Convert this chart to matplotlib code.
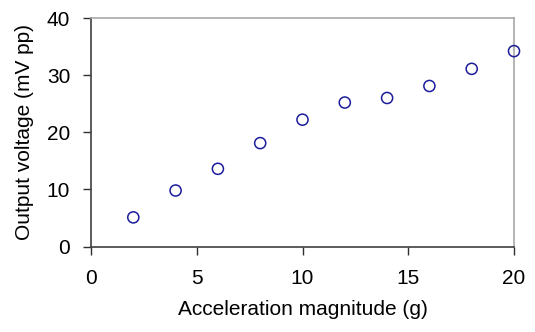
import matplotlib
matplotlib.use("Agg")
import matplotlib.pyplot as plt

# data
accel_g = [2, 4, 6, 8, 10, 12, 14, 16, 18, 20]
output_mv = [5.1, 9.8, 13.6, 18.1, 22.2, 25.2, 26.0, 28.1, 31.1, 34.2]

x_ticks = [0, 5, 10, 15, 20]
y_ticks = [0, 10, 20, 30, 40]

plt.rcParams["font.family"] = ["Liberation Sans", "DejaVu Sans"]

fig = plt.figure(figsize=(5.35, 3.32), dpi=100, facecolor="white")
ax = fig.add_axes([91 / 535, 1 - 246.5 / 332, (514 - 91) / 535, (246.5 - 18) / 332])

ax.scatter(accel_g, output_mv, s=64, facecolors="none", edgecolors="#1c1c9c",
           linewidths=1.1, clip_on=False, zorder=3)

ax.set_xlim(0, 20)
ax.set_ylim(0, 40)
ax.set_xticks(x_ticks)
ax.set_yticks(y_ticks)
ax.tick_params(axis="both", direction="out", length=6, width=1, colors="#303030",
               labelsize=15, labelcolor="black", top=False, right=False)
ax.tick_params(axis="x", pad=10)
ax.tick_params(axis="y", pad=9)

for side in ["left", "bottom"]:
    ax.spines[side].set_color("#404040")
    ax.spines[side].set_linewidth(1.2)
for side in ["top", "right"]:
    ax.spines[side].set_color("#a8a8a8")
    ax.spines[side].set_linewidth(1.2)

ax.set_xlabel("Acceleration magnitude (g)", fontsize=15, labelpad=9)
ax.set_ylabel("Output voltage (mV pp)", fontsize=15, labelpad=9)

fig.savefig("out.png", dpi=100)
